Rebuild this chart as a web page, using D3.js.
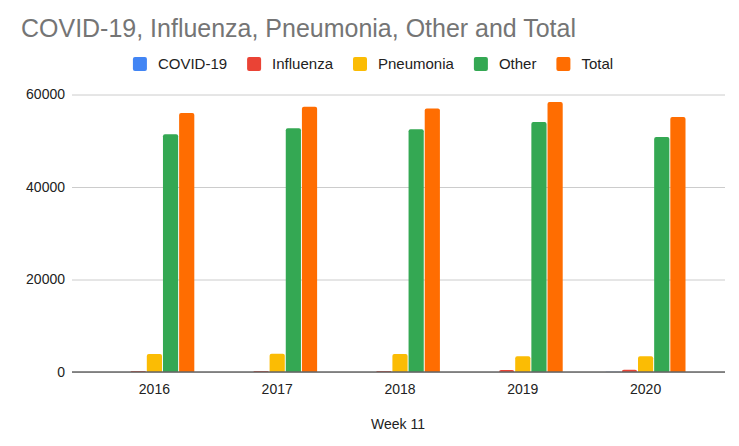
<!DOCTYPE html>
<html>
<head>
<meta charset="utf-8">
<script src="https://cdn.jsdelivr.net/npm/d3@7"></script>
<style>
  body { margin: 0; background: #fff; }
  svg { display: block; font-family: "Liberation Sans", Arial, sans-serif; }
</style>
</head>
<body>
<div id="chart"></div>
<script>
// Chart data (Week 11 of each year)
var years = ["2016", "2017", "2018", "2019", "2020"];
var seriesNames = ["COVID-19", "Influenza", "Pneumonia", "Other", "Total"];
var covid = [0, 0, 0, 0, 30];
var influenza = [200, 210, 200, 450, 470];
var pneumonia = [3900, 3950, 3900, 3400, 3400];
var other = [51400, 52700, 52500, 54050, 50800];
var total = [56000, 57350, 57000, 58400, 55150];
var yTicks = [0, 20000, 40000, 60000];
var colors = ["#4285f4", "#ea4335", "#fbbc04", "#34a853", "#ff6d01"];

var svgWidth = 739;
var svgHeight = 446;

var svg = d3.select("#chart")
  .append("svg")
  .attr("width", svgWidth)
  .attr("height", svgHeight);

// Build rows from the arrays
var allSeries = [covid, influenza, pneumonia, other, total];
var rows = years.map(function(y, i) {
  return { year: y, values: seriesNames.map(function(n, j) { return { name: n, value: allSeries[j][i], color: colors[j] }; }) };
});

// Scales
var x0 = d3.scaleBand()
  .domain(years)
  .range([93, 707])
  .paddingInner(0.35)
  .paddingOuter(0.175);

var x1 = d3.scaleBand()
  .domain(seriesNames)
  .range([0, x0.bandwidth()])
  .paddingInner(0.06);

var y = d3.scaleLinear()
  .domain([0, 60000])
  .range([372, 94.5]);

// Title
svg.append("text")
  .attr("x", 21)
  .attr("y", 37)
  .attr("font-size", 25.5)
  .attr("fill", "#757575")
  .attr("textLength", 555)
  .attr("lengthAdjust", "spacingAndGlyphs")
  .text("COVID-19, Influenza, Pneumonia, Other and Total");

// Legend
var legend = svg.append("g");
var lx = 0;
seriesNames.forEach(function(name, i) {
  var item = legend.append("g").attr("transform", "translate(" + lx + ",0)");
  item.append("rect")
    .attr("x", 0).attr("y", 57)
    .attr("width", 14).attr("height", 14)
    .attr("rx", 2)
    .attr("fill", colors[i]);
  var t = item.append("text")
    .attr("x", 25).attr("y", 69)
    .attr("font-size", 15)
    .attr("fill", "#222")
    .text(name);
  lx += 25 + t.node().getComputedTextLength() + 20;
});
var legendWidth = lx - 20;
legend.attr("transform", "translate(" + (373 - legendWidth / 2) + ",0)");

// Gridlines and y labels
var yAxis = d3.axisLeft(y)
  .tickValues(yTicks)
  .tickSize(-(725 - 72))
  .tickPadding(7)
  .tickFormat(d3.format("d"));

var yg = svg.append("g")
  .attr("transform", "translate(72,0)")
  .call(yAxis);
yg.select(".domain").remove();
yg.selectAll(".tick line").attr("stroke", "#ccc").attr("stroke-width", 1);
yg.selectAll(".tick text")
  .attr("font-size", 14)
  .attr("fill", "#222")
  .attr("font-family", "Liberation Sans, Arial, sans-serif");

// Bars with rounded top corners
function barPath(bx, by, bw, bh) {
  var r = Math.min(2, bh, bw / 2);
  return "M" + bx + "," + (by + bh) +
    "V" + (by + r) +
    "Q" + bx + "," + by + " " + (bx + r) + "," + by +
    "H" + (bx + bw - r) +
    "Q" + (bx + bw) + "," + by + " " + (bx + bw) + "," + (by + r) +
    "V" + (by + bh) + "Z";
}

var groups = svg.selectAll(".group")
  .data(rows)
  .enter()
  .append("g")
  .attr("class", "group")
  .attr("transform", function(d) { return "translate(" + x0(d.year) + ",0)"; });

groups.selectAll("path")
  .data(function(d) { return d.values; })
  .enter()
  .append("path")
  .attr("fill", function(d) { return d.color; })
  .attr("d", function(d) {
    var h = y(0) - y(d.value);
    return barPath(x1(d.name), y(d.value), x1.bandwidth(), h);
  });

// Baseline
var xAxis = d3.axisBottom(x0).tickSize(0).tickPadding(12);
var xg = svg.append("g")
  .attr("transform", "translate(0," + y(0) + ")")
  .call(xAxis);
xg.select(".domain").remove();
svg.append("line")
  .attr("x1", 72).attr("x2", 725)
  .attr("y1", y(0)).attr("y2", y(0))
  .attr("stroke", "#666")
  .attr("stroke-width", 1.5);
xg.selectAll(".tick text")
  .attr("font-size", 14)
  .attr("fill", "#222")
  .attr("font-family", "Liberation Sans, Arial, sans-serif");

// Axis title
svg.append("text")
  .attr("x", 398)
  .attr("y", 429)
  .attr("text-anchor", "middle")
  .attr("font-size", 14)
  .attr("fill", "#222")
  .text("Week 11");
</script>
</body>
</html>
